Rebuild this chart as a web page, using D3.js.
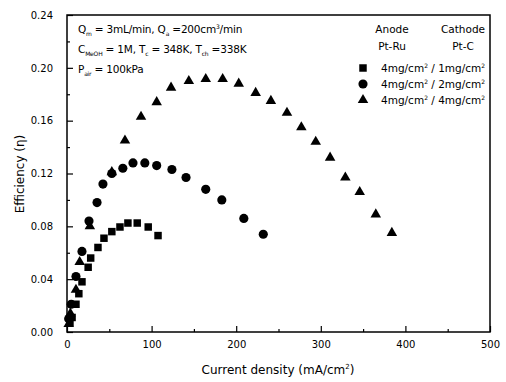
<!DOCTYPE html>
<html>
<head>
<meta charset="utf-8">
<script src="https://cdn.jsdelivr.net/npm/d3@7"></script>
<style>
  body { margin: 0; background: #fff; }
  svg { font-family: "DejaVu Sans", Verdana, sans-serif; }
</style>
</head>
<body>
<div id="chart"></div>
<script>
// data: current density (mA/cm2) vs efficiency
var sqX = [3.5, 6, 10.6, 14, 17.7, 25, 28, 36.6, 43.7, 53, 62.6, 72, 83, 96, 107.6];
var sqY = [0.007, 0.011, 0.021, 0.029, 0.038, 0.049, 0.056, 0.064, 0.071, 0.076, 0.0795, 0.0825, 0.0825, 0.0795, 0.073];

var ciX = [2, 5, 10.6, 17.7, 26, 35.5, 42.5, 53, 66, 78, 92, 106, 124, 140.7, 164, 183, 209, 232];
var ciY = [0.01, 0.021, 0.042, 0.061, 0.084, 0.098, 0.112, 0.120, 0.124, 0.128, 0.128, 0.126, 0.123, 0.117, 0.108, 0.100, 0.086, 0.074];

var trX = [2, 4, 10.6, 15, 27, 53, 68.5, 87.5, 106, 123, 144, 164, 184, 203, 223, 241, 260, 277, 294, 311, 329, 346, 365, 384];
var trY = [0.006, 0.014, 0.032, 0.053, 0.080, 0.121, 0.145, 0.163, 0.174, 0.185, 0.190, 0.1915, 0.1915, 0.188, 0.181, 0.175, 0.166, 0.155, 0.144, 0.132, 0.117, 0.106, 0.089, 0.075];

var xTicks = [0, 100, 200, 300, 400, 500];
var yTicks = [0.00, 0.04, 0.08, 0.12, 0.16, 0.20, 0.24];

var w = 506, h = 382;
var pL = 67, pR = 490, pT = 15, pB = 332;

var svg = d3.select("#chart").append("svg").attr("width", w).attr("height", h);

var x = d3.scaleLinear().domain([0, 500]).range([pL, pR]);
var y = d3.scaleLinear().domain([0, 0.24]).range([pB, pT]);

// frame
svg.append("rect").attr("x", pL).attr("y", pT)
  .attr("width", pR - pL).attr("height", pB - pT)
  .attr("fill", "none").attr("stroke", "#000").attr("stroke-width", 1.5);

// inward ticks, major and minor
var xMaj = svg.append("g").attr("transform", "translate(0," + pB + ")")
  .call(d3.axisBottom(x).tickValues(xTicks).tickSize(-6).tickFormat(""));
var xMin = svg.append("g").attr("transform", "translate(0," + pB + ")")
  .call(d3.axisBottom(x).tickValues([50, 150, 250, 350, 450]).tickSize(-3).tickFormat(""));
var yMaj = svg.append("g").attr("transform", "translate(" + pL + ",0)")
  .call(d3.axisLeft(y).tickValues(yTicks).tickSize(-6).tickFormat(""));
var yMin = svg.append("g").attr("transform", "translate(" + pL + ",0)")
  .call(d3.axisLeft(y).tickValues([0.02, 0.06, 0.10, 0.14, 0.18, 0.22]).tickSize(-3).tickFormat(""));
[xMaj, xMin, yMaj, yMin].forEach(function(g){
  g.select(".domain").remove();
  g.selectAll("line").attr("stroke", "#000").attr("stroke-width", 1.2);
});

// tick labels
var xLab = svg.append("g").attr("transform", "translate(0," + pB + ")")
  .call(d3.axisBottom(x).tickValues(xTicks).tickSize(0).tickPadding(9).tickFormat(d3.format("d")));
var yLab = svg.append("g").attr("transform", "translate(" + pL + ",0)")
  .call(d3.axisLeft(y).tickValues(yTicks).tickSize(0).tickPadding(14).tickFormat(d3.format(".2f")));
[xLab, yLab].forEach(function(g){
  g.select(".domain").remove();
  g.selectAll("text").attr("font-size", 10).attr("fill", "#000")
    .attr("font-family", "DejaVu Sans, sans-serif");
});

// axis titles
var xt = svg.append("text").attr("x", 278).attr("y", 374).attr("text-anchor", "middle")
  .attr("font-size", 12);
xt.append("tspan").text("Current density (mA/cm");
xt.append("tspan").attr("font-size", 7).attr("dy", -5).text("2");
xt.append("tspan").attr("dy", 5).text(")");

svg.append("text").attr("transform", "translate(24,174) rotate(-90)")
  .attr("text-anchor", "middle").attr("font-size", 12).text("Efficiency (\u03b7)");

// points
var sq = d3.symbol().type(d3.symbolSquare).size(56);
var ci = d3.symbol().type(d3.symbolCircle).size(66);
var tr = d3.symbol().type(d3.symbolTriangle).size(48);

svg.selectAll("path.sq").data(d3.zip(sqX, sqY)).enter().append("path")
  .attr("class", "sq").attr("d", sq)
  .attr("transform", function(d){ return "translate(" + x(d[0]) + "," + y(d[1]) + ")"; });
svg.selectAll("path.ci").data(d3.zip(ciX, ciY)).enter().append("path")
  .attr("class", "ci").attr("d", ci)
  .attr("transform", function(d){ return "translate(" + x(d[0]) + "," + y(d[1]) + ")"; });
svg.selectAll("path.tr").data(d3.zip(trX, trY)).enter().append("path")
  .attr("class", "tr").attr("d", tr)
  .attr("transform", function(d){ return "translate(" + x(d[0]) + "," + y(d[1]) + ")"; });

// conditions text (top left)
var cond = [
  [["Q", ""], ["m", "sub"], [" = 3mL/min,  Q", ""], ["a", "sub"], [" =200cm", ""], ["3", "sup"], ["/min", ""]],
  [["C", ""], ["MeOH", "sub"], [" = 1M,  T", ""], ["c", "sub"], [" = 348K,  T", ""], ["ch", "sub"], [" =338K", ""]],
  [["P", ""], ["air", "sub"], [" = 100kPa", ""]]
];
cond.forEach(function(line, i){
  var t = svg.append("text").attr("x", 78).attr("y", 33 + i * 20).attr("font-size", 10.5)
    .attr("letter-spacing", -0.2);
  var shift = 0;
  line.forEach(function(p){
    var s = t.append("tspan").text(p[0]);
    var target = p[1] == "sub" ? 3 : (p[1] == "sup" ? -4 : 0);
    s.attr("dy", target - shift);
    if (p[1]) s.attr("font-size", 6);
    shift = target;
  });
});

// legend
svg.append("text").attr("x", 392).attr("y", 33).attr("text-anchor", "middle").attr("font-size", 10.5).text("Anode");
svg.append("text").attr("x", 463).attr("y", 33).attr("text-anchor", "middle").attr("font-size", 10.5).text("Cathode");
svg.append("text").attr("x", 392).attr("y", 50).attr("text-anchor", "middle").attr("font-size", 10.5).text("Pt-Ru");
svg.append("text").attr("x", 463).attr("y", 50).attr("text-anchor", "middle").attr("font-size", 10.5).text("Pt-C");

var legCat = ["1", "2", "4"];
var legSym = [sq, ci, tr];
legCat.forEach(function(c, i){
  var ly = 68 + i * 16;
  svg.append("path").attr("d", legSym[i]).attr("transform", "translate(363," + ly + ")");
  var t = svg.append("text").attr("x", 381).attr("y", ly + 4).attr("font-size", 10.5);
  t.append("tspan").text("4mg/cm");
  t.append("tspan").attr("font-size", 6).attr("dy", -4).text("2");
  t.append("tspan").attr("dy", 4).text(" / " + c + "mg/cm");
  t.append("tspan").attr("font-size", 6).attr("dy", -4).text("2");
});
</script>
</body>
</html>
